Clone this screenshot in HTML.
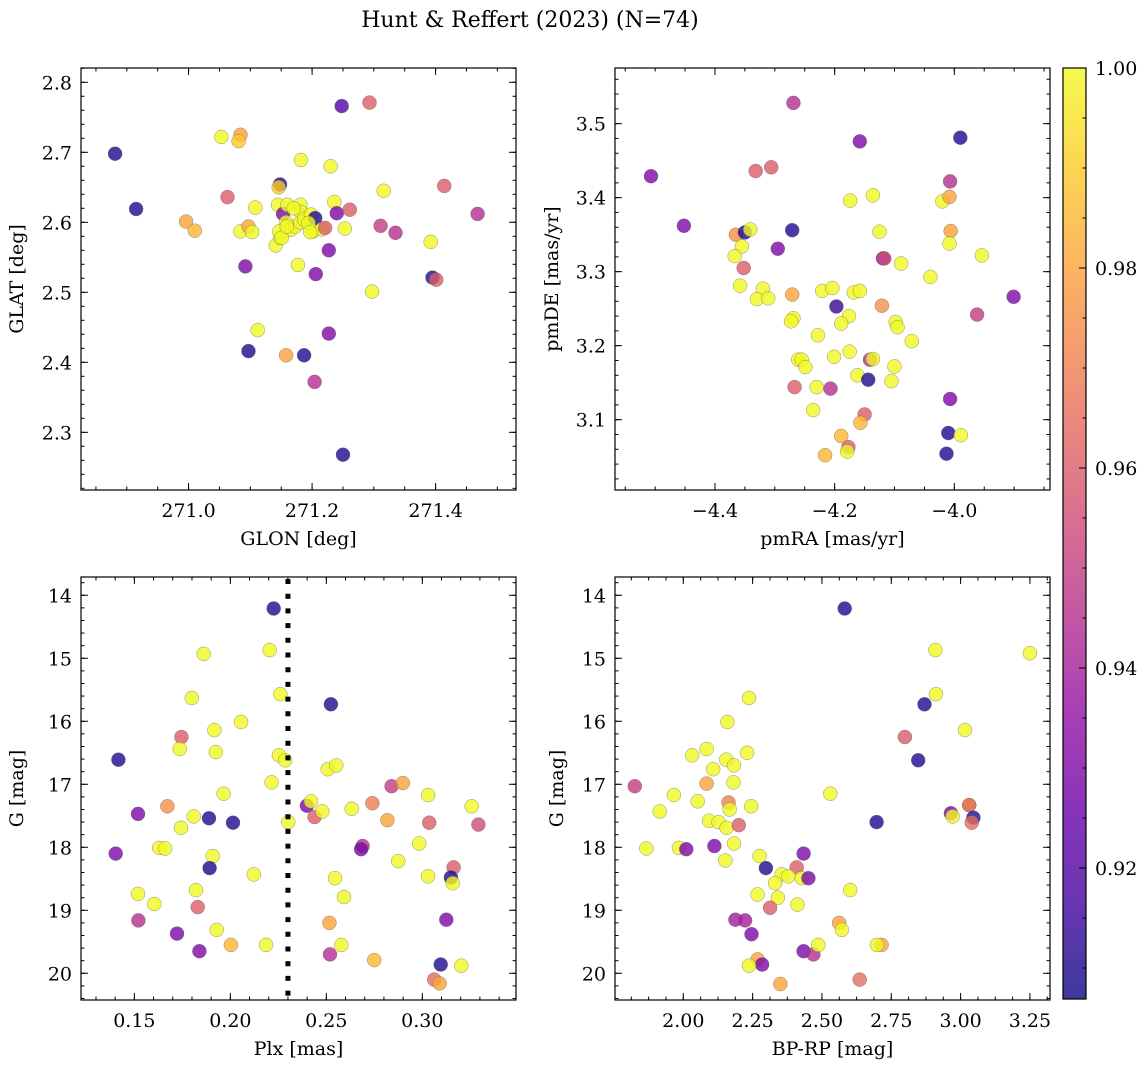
<!DOCTYPE html>
<html><head><meta charset="utf-8"><style>
html,body{margin:0;padding:0;background:#fff;}
svg{display:block;font-family:"DejaVu Serif","Liberation Serif",serif;}
</style></head><body>
<svg id="fig" width="1148" height="1067" viewBox="0 0 1148 1067" xmlns="http://www.w3.org/2000/svg">
<text x="530" y="27" font-size="22" text-anchor="middle">Hunt &amp; Reffert (2023) (N=74)</text>
</svg>
<script>
// ---- Panel 1: GLON / GLAT ----
const p1Glon=[270.881,270.915,270.996,271.010,271.053,271.084,271.081,271.063,271.084,271.097,271.103,271.108,271.092,271.097,271.112,271.141,271.148,271.146,271.148,271.145,271.153,271.160,271.158,271.165,271.173,271.177,271.158,271.182,271.181,271.182,271.181,271.187,271.198,271.205,271.187,271.202,271.227,271.206,271.204,271.216,271.221,271.230,271.236,271.240,271.227,271.248,271.261,271.253,271.250,271.293,271.316,271.311,271.297,271.335,271.392,271.395,271.401,271.414,271.468,271.147,271.151,271.159,271.170,271.194,271.197];
const p1Glat=[2.698,2.619,2.601,2.588,2.722,2.725,2.716,2.636,2.587,2.594,2.586,2.621,2.537,2.416,2.446,2.567,2.654,2.650,2.578,2.625,2.612,2.625,2.600,2.589,2.594,2.539,2.410,2.689,2.625,2.615,2.600,2.604,2.611,2.606,2.410,2.587,2.560,2.526,2.372,2.590,2.592,2.680,2.629,2.613,2.441,2.766,2.618,2.591,2.268,2.771,2.645,2.595,2.501,2.585,2.572,2.521,2.518,2.652,2.612,2.587,2.578,2.594,2.620,2.599,2.586];
const p1Prob=[0.91,0.91,0.98,0.985,1,0.98,0.99,0.96,1,0.98,1,1,0.93,0.91,1,1,0.91,0.99,1,1,0.93,1,1,1,1,1,0.98,1,1,1,1,1,1,0.91,0.91,1,0.93,0.93,0.945,1,0.96,1,1,0.93,0.93,0.92,0.96,1,0.91,0.96,1,0.95,1,0.945,1,0.91,0.96,0.96,0.945,1,1,1,1,1,1];
const p1XTicks=[271.0,271.2,271.4];
const p1YTicks=[2.3,2.4,2.5,2.6,2.7,2.8];

// ---- Panel 2: pmRA / pmDE ----
const p2Pmra=[-4.269,-4.507,-4.452,-4.332,-4.306,-4.158,-3.990,-4.007,-4.174,-4.136,-4.020,-4.008,-4.365,-4.350,-4.341,-4.271,-4.295,-4.355,-4.367,-4.352,-4.125,-4.006,-4.008,-3.954,-4.119,-4.117,-4.089,-4.040,-3.901,-4.358,-4.320,-4.330,-4.311,-4.271,-4.221,-4.204,-4.168,-4.158,-4.197,-4.121,-3.962,-4.269,-4.273,-4.176,-4.189,-4.098,-4.095,-4.071,-4.228,-4.175,-4.201,-4.261,-4.255,-4.249,-4.141,-4.136,-4.100,-4.162,-4.144,-4.105,-4.267,-4.230,-4.207,-4.007,-4.236,-4.150,-4.157,-4.189,-4.177,-4.179,-4.216,-4.010,-3.989,-4.013];
const p2Pmde=[3.528,3.429,3.362,3.436,3.441,3.476,3.481,3.422,3.396,3.403,3.395,3.401,3.350,3.353,3.357,3.356,3.331,3.334,3.321,3.305,3.354,3.355,3.338,3.322,3.318,3.318,3.311,3.293,3.266,3.281,3.277,3.263,3.264,3.269,3.274,3.278,3.272,3.274,3.253,3.254,3.242,3.237,3.233,3.240,3.230,3.232,3.225,3.206,3.214,3.192,3.185,3.181,3.181,3.171,3.181,3.182,3.172,3.160,3.154,3.152,3.144,3.144,3.142,3.128,3.113,3.107,3.096,3.078,3.063,3.057,3.052,3.082,3.079,3.054];
const p2Prob=[0.945,0.93,0.93,0.96,0.96,0.93,0.91,0.945,1,1,1,0.98,0.975,0.91,1,0.91,0.93,1,1,0.96,1,0.98,1,1,0.93,0.955,1,1,0.93,1,1,1,1,0.98,1,1,1,1,0.915,0.975,0.95,1,1,1,1,1,1,1,1,1,1,1,1,1,0.945,1,1,1,0.91,1,0.96,1,0.945,0.93,1,0.96,0.985,0.985,0.96,1,0.985,0.91,1,0.91];
const p2XTicks=[-4.4,-4.2,-4.0];
const p2YTicks=[3.1,3.2,3.3,3.4,3.5];

// ---- Panel 3: Plx / G ----
const p3Plx=[0.2226,0.1861,0.2205,0.1799,0.2260,0.2524,0.2056,0.1917,0.1745,0.1736,0.1924,0.1417,0.2253,0.2285,0.2507,0.2552,0.2215,0.2840,0.2899,0.1965,0.3030,0.3257,0.1672,0.1519,0.2399,0.2420,0.2439,0.2479,0.2632,0.2740,0.2818,0.3036,0.3292,0.1809,0.1889,0.2014,0.1743,0.2302,0.1403,0.1630,0.1660,0.1908,0.1892,0.2689,0.2681,0.2984,0.2875,0.3163,0.3149,0.3158,0.3030,0.2122,0.2545,0.2592,0.1519,0.1604,0.1821,0.1830,0.1521,0.3125,0.1722,0.1929,0.2516,0.1839,0.2003,0.2186,0.2578,0.2519,0.2750,0.3096,0.3203,0.3062,0.3090];
const p3G=[14.21,14.93,14.87,15.63,15.57,15.73,16.01,16.14,16.25,16.44,16.49,16.61,16.54,16.62,16.76,16.70,16.97,17.03,16.98,17.15,17.17,17.35,17.35,17.47,17.34,17.27,17.52,17.43,17.39,17.30,17.57,17.61,17.64,17.51,17.54,17.61,17.69,17.60,18.10,18.01,18.02,18.14,18.33,17.98,18.03,17.94,18.22,18.32,18.48,18.57,18.46,18.43,18.49,18.79,18.74,18.90,18.68,18.95,19.16,19.15,19.37,19.31,19.20,19.65,19.55,19.55,19.55,19.70,19.79,19.86,19.88,20.10,20.16];
const p3Prob=[0.91,1,1,1,1,0.91,1,1,0.96,1,1,0.91,1,1,1,1,1,0.95,0.98,1,1,1,0.975,0.93,0.93,1,0.96,1,1,0.97,0.98,0.96,0.955,1,0.91,0.91,1,1,0.93,1,1,1,0.91,0.945,0.93,1,1,0.96,0.91,1,1,1,1,1,1,1,1,0.96,0.945,0.93,0.93,1,0.98,0.93,0.985,1,1,0.945,0.985,0.91,1,0.965,0.98];
const p3XTicks=[0.15,0.20,0.25,0.30];
const p3YTicks=[14,15,16,17,18,19,20];
const plxCut=[0.23];

// ---- Panel 4: BP-RP / G ----
const p4Bprp=[2.582,3.250,2.909,2.911,2.870,2.237,2.159,3.016,2.799,2.084,2.032,2.230,2.155,2.183,2.847,2.108,2.181,2.084,1.825,2.530,1.966,2.052,1.915,2.163,2.167,2.245,2.965,2.971,3.031,3.031,3.046,3.040,2.093,2.127,2.156,2.200,2.697,1.867,1.984,2.011,2.112,2.183,2.152,2.275,2.434,2.298,2.409,2.355,2.379,2.427,2.451,2.331,2.602,2.268,2.341,2.412,2.313,2.188,2.223,2.246,2.562,2.572,2.434,2.469,2.487,2.715,2.698,2.268,2.284,2.237,2.636,2.350];
const p4G=[14.21,14.92,14.87,15.57,15.73,15.63,16.01,16.14,16.25,16.44,16.54,16.50,16.61,16.70,16.62,16.76,16.97,16.99,17.03,17.15,17.17,17.27,17.43,17.29,17.40,17.35,17.46,17.51,17.33,17.33,17.53,17.61,17.58,17.60,17.69,17.65,17.60,18.02,18.01,18.03,17.98,17.94,18.21,18.14,18.10,18.33,18.32,18.43,18.46,18.49,18.49,18.57,18.68,18.75,18.80,18.91,18.96,19.15,19.16,19.38,19.20,19.31,19.65,19.70,19.55,19.55,19.55,19.78,19.86,19.88,20.10,20.17];
const p4Prob=[0.91,1,1,1,0.91,1,1,1,0.96,1,1,1,1,1,0.91,1,1,0.98,0.95,1,1,1,1,0.97,1,1,0.93,1,0.93,0.975,0.91,0.965,1,1,1,0.96,0.91,1,1,0.93,0.93,1,1,1,0.93,0.91,0.96,1,1,1,0.93,1,1,1,1,1,0.96,0.94,0.94,0.93,0.98,1,0.93,0.945,1,0.98,1,0.98,0.93,1,0.965,0.98];
const p4XTicks=[2.00,2.25,2.50,2.75,3.00,3.25];
const p4YTicks=[14,15,16,17,18,19,20];

// ---- Colorbar ----
const cbTicks=[0.92,0.94,0.96,0.98,1.00];
const cbRange=[0.9069,1.0];

const NS="http://www.w3.org/2000/svg";
const svg=document.getElementById('fig');
const FS=19;
function mk(tag,attrs,parent){const e=document.createElementNS(NS,tag);for(const k in attrs)e.setAttribute(k,attrs[k]);(parent||svg).appendChild(e);return e;}

const plasma=[[13,8,135],[65,4,157],[106,0,168],[143,13,164],[177,42,144],[204,71,120],[225,100,98],[242,132,75],[252,166,54],[252,206,37],[240,249,33]];
function cmap(t){t=Math.max(0,Math.min(1,t));const f=t*10;const i=Math.min(9,Math.floor(f));const r=f-i;const a=plasma[i],b=plasma[i+1];
 return 'rgb('+[0,1,2].map(k=>Math.round(a[k]+(b[k]-a[k])*r)).join(',')+')';}
function pcol(p){return cmap((p-cbRange[0])/(cbRange[1]-cbRange[0]));}

function fmtMinus(s){return s.replace('-','\u2212');}

function panel(cfg){
 const g=mk('g',{});
 
 
 const X=v=>cfg.x0+(v-cfg.xd0)/(cfg.xd1-cfg.xd0)*(cfg.x1-cfg.x0);
 const Y=v=>cfg.y0+(v-cfg.yd0)/(cfg.yd1-cfg.yd0)*(cfg.y1-cfg.y0);
 const clip='clip-'+cfg.name;
 const cp=mk('clipPath',{id:clip},g);mk('rect',{x:cfg.x0,y:cfg.y0,width:cfg.x1-cfg.x0,height:cfg.y1-cfg.y0},cp);
 const pts=mk('g',{'clip-path':'url(#'+clip+')'},g);
 
 
 for(let i=0;i<cfg.xs.length;i++){
  const c=mk('circle',{cx:X(cfg.xs[i]).toFixed(1),cy:Y(cfg.ys[i]).toFixed(1),r:7,fill:pcol(cfg.ps[i]),'fill-opacity':0.8,stroke:'#666','stroke-opacity':0.7,'stroke-width':0.5},pts);
  
  
 }
 if(cfg.vline){for(const v of cfg.vline){
  const l=mk('line',{x1:X(v),x2:X(v),y1:cfg.y0+2,y2:cfg.y1,stroke:'#000','stroke-width':5,'stroke-dasharray':'5 9.7'},g);
  
  
 }}
 const tk=mk('g',{stroke:'#000','stroke-width':1},g);
 const eps=1e-9;
 function minorVals(d0,d1,step){const lo=Math.min(d0,d1),hi=Math.max(d0,d1);const out=[];for(let v=Math.ceil(lo/step-eps)*step;v<=hi+eps;v+=step)out.push(v);return out;}
 for(const v of minorVals(cfg.xd0,cfg.xd1,cfg.xMin)){const x=X(v);mk('line',{x1:x,x2:x,y1:cfg.y1,y2:cfg.y1-3.5},tk);mk('line',{x1:x,x2:x,y1:cfg.y0,y2:cfg.y0+3.5},tk);}
 for(const v of minorVals(cfg.yd0,cfg.yd1,cfg.yMin)){const y=Y(v);mk('line',{x1:cfg.x0,x2:cfg.x0+3.5,y1:y,y2:y},tk);mk('line',{x1:cfg.x1,x2:cfg.x1-3.5,y1:y,y2:y},tk);}
 for(const v of cfg.xTicks){const x=X(v);mk('line',{x1:x,x2:x,y1:cfg.y1,y2:cfg.y1-7},tk);mk('line',{x1:x,x2:x,y1:cfg.y0,y2:cfg.y0+7},tk);
  const t=mk('text',{x:x,y:cfg.y1+27,'font-size':FS,'text-anchor':'middle'},g);t.textContent=fmtMinus(v.toFixed(cfg.xDec));
  
  }
 for(const v of cfg.yTicks){const y=Y(v);mk('line',{x1:cfg.x0,x2:cfg.x0+7,y1:y,y2:y},tk);mk('line',{x1:cfg.x1,x2:cfg.x1-7,y1:y,y2:y},tk);
  const t=mk('text',{x:cfg.x0-9,y:y+7,'font-size':FS,'text-anchor':'end'},g);t.textContent=fmtMinus(v.toFixed(cfg.yDec));
  
  }
 const fr=mk('rect',{x:cfg.x0,y:cfg.y0,width:cfg.x1-cfg.x0,height:cfg.y1-cfg.y0,fill:'none',stroke:'#000','stroke-width':1.2},g);
 
 
 const xl=mk('text',{x:(cfg.x0+cfg.x1)/2,y:cfg.y1+55,'font-size':FS,'text-anchor':'middle'},g);xl.textContent=cfg.xlabel;
 
 
 const yx=cfg.x0-cfg.ylOff, yy=(cfg.y0+cfg.y1)/2;
 const yl=mk('text',{x:yx,y:yy,'font-size':FS,'text-anchor':'middle',transform:'rotate(-90 '+yx+' '+yy+')'},g);yl.textContent=cfg.ylabel;
 
 
}

panel({name:'glon-glat-panel',x0:81,x1:516,y0:68,y1:490,xd0:270.8258,xd1:271.5302,yd0:2.8204,yd1:2.2176,xs:p1Glon,ys:p1Glat,ps:p1Prob,xTicks:p1XTicks,yTicks:p1YTicks,xMin:0.05,yMin:0.02,xDec:1,yDec:1,xlabel:'GLON [deg]',ylabel:'GLAT [deg]',ylOff:58});
panel({name:'pm-panel',x0:615,x1:1050,y0:68,y1:490,xd0:-4.5671,xd1:-3.8401,yd0:3.5752,yd1:3.0050,xs:p2Pmra,ys:p2Pmde,ps:p2Prob,xTicks:p2XTicks,yTicks:p2YTicks,xMin:0.05,yMin:0.02,xDec:1,yDec:1,xlabel:'pmRA [mas/yr]',ylabel:'pmDE [mas/yr]',ylOff:57});
panel({name:'plx-g-panel',x0:81,x1:516,y0:577,y1:1000,xd0:0.1222,xd1:0.3488,yd0:13.71,yd1:20.424,xs:p3Plx,ys:p3G,ps:p3Prob,xTicks:p3XTicks,yTicks:p3YTicks,xMin:0.01,yMin:0.2,xDec:2,yDec:0,xlabel:'Plx [mas]',ylabel:'G [mag]',ylOff:58,vline:plxCut});
panel({name:'cmd-panel',x0:615,x1:1050,y0:577,y1:1000,xd0:1.7537,xd1:3.3224,yd0:13.71,yd1:20.424,xs:p4Bprp,ys:p4G,ps:p4Prob,xTicks:p4XTicks,yTicks:p4YTicks,xMin:0.0625,yMin:0.2,xDec:2,yDec:0,xlabel:'BP-RP [mag]',ylabel:'G [mag]',ylOff:52});

(function(){
 const cx0=1063,cx1=1086,cy0=68,cy1=999;
 const g=mk('g',{});
 
 
 const defs=mk('defs',{},g);
 const lg=mk('linearGradient',{id:'cbgrad',x1:0,y1:1,x2:0,y2:0},defs);
 for(let i=0;i<=20;i++){const t=i/20;mk('stop',{offset:t,'stop-color':cmap(t)},lg);}
 mk('rect',{x:cx0,y:cy0,width:cx1-cx0,height:cy1-cy0,fill:'url(#cbgrad)','fill-opacity':0.8},g);
 const Y=v=>cy1-(v-cbRange[0])/(cbRange[1]-cbRange[0])*(cy1-cy0);
 for(let v=0.91;v<=1.0001;v+=0.005){mk('line',{x1:cx1,x2:cx1-3.5,y1:Y(v),y2:Y(v),stroke:'#000','stroke-width':1},g);}
 for(const v of cbTicks){const y=Y(v);mk('line',{x1:cx1,x2:cx1-7,y1:y,y2:y,stroke:'#000','stroke-width':1},g);
  const t=mk('text',{x:cx1+9,y:y+7,'font-size':FS},g);t.textContent=v.toFixed(2);
  
  }
 mk('rect',{x:cx0,y:cy0,width:cx1-cx0,height:cy1-cy0,fill:'none',stroke:'#000','stroke-width':1.2},g);
})();
</script>
</body></html>
